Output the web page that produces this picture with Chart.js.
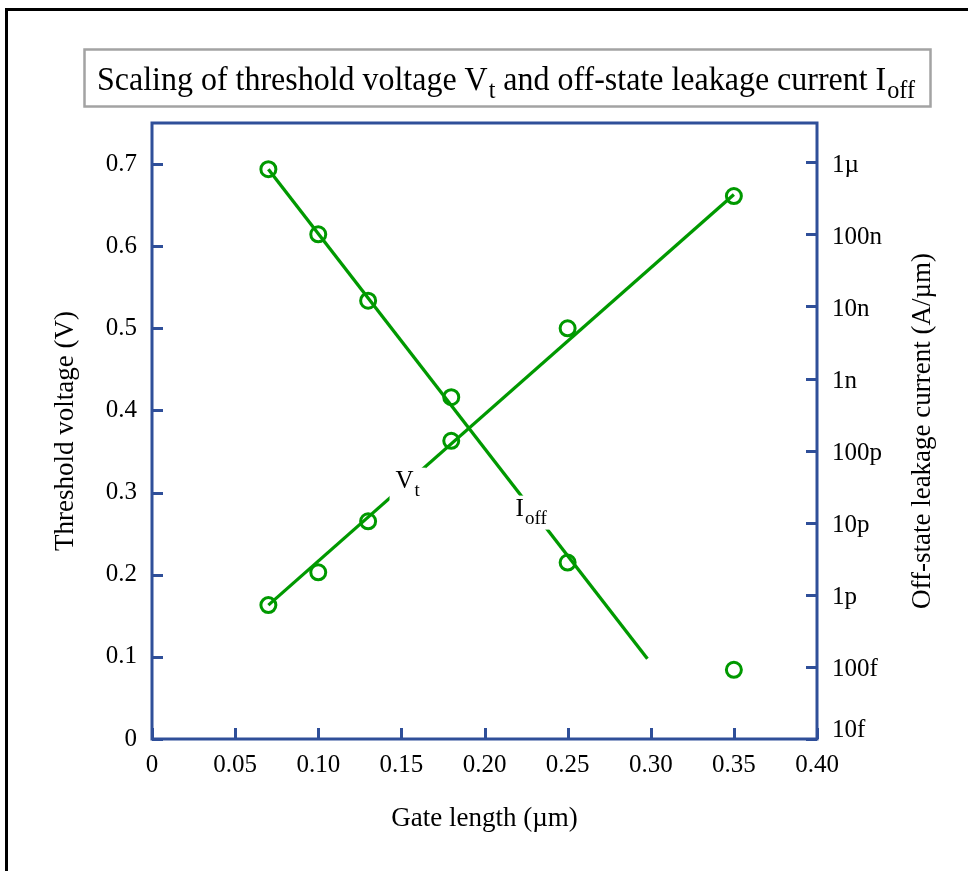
<!DOCTYPE html>
<html>
<head>
<meta charset="utf-8">
<script src="https://cdn.jsdelivr.net/npm/chart.js@4/dist/chart.umd.min.js"></script>
<style>
  html, body { margin: 0; padding: 0; background: #fff; }
  #wrap { width: 968px; height: 871px; position: relative; }
</style>
</head>
<body>
<div id="wrap"><canvas id="c" width="968" height="871"></canvas></div>
<script>
// Measured gate lengths (µm)
const gateLength = [0.07, 0.10, 0.13, 0.18, 0.25, 0.35];
// Threshold voltage (V), left axis
const vtValues = [0.163, 0.203, 0.265, 0.363, 0.500, 0.661];
// Off-state leakage current (A/µm), right log axis
const ioffValues = [8.0e-7, 1.0e-7, 1.2e-8, 5.5e-10, 2.8e-12, 9.1e-14];

// Trend lines (end points)
const vtFitX = [0.07, 0.35];
const vtFitY = [0.163, 0.663];
const ioffFitX = [0.07, 0.298];
const ioffFitY = [8.0e-7, 1.3e-13];

// Axis ticks and their labels
const xTicks = [0, 0.05, 0.10, 0.15, 0.20, 0.25, 0.30, 0.35, 0.40];
const xTickLabels = ['0', '0.05', '0.10', '0.15', '0.20', '0.25', '0.30', '0.35', '0.40'];
const vtTicks = [0, 0.1, 0.2, 0.3, 0.4, 0.5, 0.6, 0.7];
const vtTickLabels = ['0', '0.1', '0.2', '0.3', '0.4', '0.5', '0.6', '0.7'];
const ioffTicks = [1e-14, 1e-13, 1e-12, 1e-11, 1e-10, 1e-9, 1e-8, 1e-7, 1e-6];
const ioffTickLabels = ['10f', '100f', '1p', '10p', '100p', '1n', '10n', '100n', '1\u00b5'];

// In-plot series labels (anchor in left-axis data units)
const vtLabelAt = { x: 0.1465, y: 0.306 };
const ioffLabelAt = { x: 0.2187, y: 0.272 };

const GREEN = '#009900';
const AXIS_BLUE = '#2f4f99';
const SERIF = "'Liberation Serif', 'Times New Roman', serif";

const toPoints = (xs, ys) => xs.map((x, i) => ({ x: x, y: ys[i] }));

// Draws main text followed by a subscript; returns total width
function drawSubText(ctx, x, y, main, sub, size, subSize, subDrop, measureOnly) {
  ctx.font = size + 'px ' + SERIF;
  const w1 = ctx.measureText(main).width;
  ctx.font = subSize + 'px ' + SERIF;
  const w2 = ctx.measureText(sub).width;
  if (!measureOnly) {
    ctx.font = size + 'px ' + SERIF;
    ctx.fillText(main, x, y);
    ctx.font = subSize + 'px ' + SERIF;
    ctx.fillText(sub, x + w1 + 1, y + subDrop);
  }
  return w1 + 1 + w2;
}

const decorPlugin = {
  id: 'decor',
  beforeDraw(chart) {
    const ctx = chart.ctx;
    ctx.save();
    ctx.fillStyle = '#fff';
    ctx.fillRect(0, 0, chart.width, chart.height);

    // outer black frame (open at right and bottom)
    ctx.strokeStyle = '#000';
    ctx.lineWidth = 3;
    ctx.beginPath();
    ctx.moveTo(968, 9.5);
    ctx.lineTo(6.5, 9.5);
    ctx.lineTo(6.5, 871);
    ctx.stroke();

    // title box
    ctx.strokeStyle = '#a3a3a3';
    ctx.lineWidth = 2.5;
    ctx.strokeRect(84.5, 49.5, 846, 57);

    // title text with subscripts, set in a slightly narrow serif
    const size = 33, sub = 25, drop = 8;
    const parts = [
      ['Scaling of threshold voltage V', 't'],
      [' and off-state leakage current I', 'off']
    ];
    let total = 0;
    parts.forEach(p => { total += drawSubText(ctx, 0, 0, p[0], p[1], size, sub, drop, true); });
    const targetW = 818;
    const sx = Math.min(1, targetW / total);
    ctx.translate(506 - targetW / 2, 0);
    ctx.scale(sx, 1);
    ctx.fillStyle = '#000';
    ctx.textBaseline = 'alphabetic';
    ctx.textAlign = 'left';
    let x = (targetW / sx - total) / 2;
    parts.forEach(p => { x += drawSubText(ctx, x, 90, p[0], p[1], size, sub, drop, false); });
    ctx.restore();

    // right axis title, reading bottom to top
    const a = chart.chartArea;
    ctx.save();
    ctx.translate(923, (a.top + a.bottom) / 2);
    ctx.rotate(-Math.PI / 2);
    ctx.font = '27px ' + SERIF;
    ctx.fillStyle = '#000';
    ctx.textAlign = 'center';
    ctx.textBaseline = 'middle';
    ctx.fillText('Off-state leakage current (A/\u00b5m)', 0, 0);
    ctx.restore();
  },
  beforeDatasetsDraw(chart) {
    const ctx = chart.ctx;
    const a = chart.chartArea;
    const sx = chart.scales.x, sy = chart.scales.y, sy2 = chart.scales.y2;
    const tl = 11;
    ctx.save();
    ctx.strokeStyle = AXIS_BLUE;
    ctx.lineWidth = 3;
    ctx.beginPath();
    sy.ticks.forEach(t => {
      const p = Math.round(sy.getPixelForValue(t.value)) + 0.5;
      ctx.moveTo(a.left, p); ctx.lineTo(a.left + tl, p);
    });
    sy2.ticks.forEach(t => {
      const p = Math.round(sy2.getPixelForValue(t.value)) + 0.5;
      ctx.moveTo(a.right, p); ctx.lineTo(a.right - tl, p);
    });
    sx.ticks.forEach(t => {
      const p = Math.round(sx.getPixelForValue(t.value)) + 0.5;
      ctx.moveTo(p, a.bottom); ctx.lineTo(p, a.bottom - tl);
    });
    ctx.stroke();
    ctx.strokeRect(a.left, a.top, a.right - a.left, a.bottom - a.top);

    // right-axis tick labels (lowest one kept inside the frame)
    ctx.font = '25px ' + SERIF;
    ctx.fillStyle = '#000';
    ctx.textAlign = 'left';
    ctx.textBaseline = 'middle';
    sy2.ticks.forEach((t, i) => {
      const p = Math.min(sy2.getPixelForValue(t.value) + 3, a.bottom - 9);
      ctx.fillText(ioffTickLabels[i], a.right + 15, p);
    });
    ctx.restore();
  },
  afterDatasetsDraw(chart) {
    const ctx = chart.ctx;
    const sx = chart.scales.x, sy = chart.scales.y;
    const size = 25, sub = 19, drop = 8;
    ctx.save();
    ctx.textBaseline = 'alphabetic';
    ctx.textAlign = 'left';
    [[vtLabelAt, 'V', 't'], [ioffLabelAt, 'I', 'off']].forEach(l => {
      const px = sx.getPixelForValue(l[0].x);
      const py = sy.getPixelForValue(l[0].y);
      const w = drawSubText(ctx, px, py, l[1], l[2], size, sub, drop, true);
      ctx.fillStyle = '#fff';
      ctx.fillRect(px - 6, py - 20, w + 12, 34);
      ctx.fillStyle = '#000';
      drawSubText(ctx, px, py, l[1], l[2], size, sub, drop, false);
    });
    ctx.restore();
  }
};

const tickFont = { family: SERIF, size: 25 };
const titleFont = { family: SERIF, size: 27 };

new Chart(document.getElementById('c'), {
  type: 'scatter',
  data: {
    datasets: [
      {
        type: 'line', data: toPoints(vtFitX, vtFitY), yAxisID: 'y',
        borderColor: GREEN, borderWidth: 3.3, pointRadius: 0, fill: false
      },
      {
        type: 'line', data: toPoints(ioffFitX, ioffFitY), yAxisID: 'y2',
        borderColor: GREEN, borderWidth: 3.3, pointRadius: 0, fill: false
      },
      {
        data: toPoints(gateLength, vtValues), yAxisID: 'y',
        pointRadius: 7.5, pointBorderWidth: 3, pointBackgroundColor: '#fff',
        pointBorderColor: GREEN, showLine: false
      },
      {
        data: toPoints(gateLength, ioffValues), yAxisID: 'y2',
        pointRadius: 7.5, pointBorderWidth: 3, pointBackgroundColor: '#fff',
        pointBorderColor: GREEN, showLine: false
      }
    ]
  },
  options: {
    responsive: false,
    devicePixelRatio: 1,
    animation: false,
    events: [],
    layout: { padding: { top: 123, left: 0, right: 0, bottom: 0 } },
    plugins: { legend: { display: false }, tooltip: { enabled: false } },
    scales: {
      x: {
        type: 'linear', position: 'bottom', min: 0, max: 0.4,
        afterFit: s => { s.height = 132; },
        afterBuildTicks: s => { s.ticks = xTicks.map(v => ({ value: v })); },
        grid: { display: false, drawTicks: false },
        border: { display: false },
        ticks: {
          callback: (v, i) => xTickLabels[i], font: tickFont, color: '#000',
          padding: 11, maxRotation: 0, autoSkip: false
        },
        title: { display: true, text: 'Gate length (\u00b5m)', font: titleFont, color: '#000', padding: { top: 0, bottom: 36 } }
      },
      y: {
        type: 'linear', position: 'left', min: 0, max: 0.75,
        afterFit: s => { s.width = 152; },
        afterBuildTicks: s => { s.ticks = vtTicks.map(v => ({ value: v })); },
        grid: { display: false, drawTicks: false },
        border: { display: false },
        ticks: { callback: (v, i) => vtTickLabels[i], font: tickFont, color: '#000', padding: 15, autoSkip: false },
        title: { display: true, text: 'Threshold voltage (V)', font: titleFont, color: '#000', padding: { top: 50, bottom: 0 } }
      },
      y2: {
        type: 'logarithmic', position: 'right', min: 1e-14, max: 3.5e-6,
        afterFit: s => { s.width = 151; },
        afterBuildTicks: s => { s.ticks = ioffTicks.map(v => ({ value: v })); },
        grid: { display: false, drawTicks: false },
        border: { display: false },
        ticks: { display: false }
      }
    }
  },
  plugins: [decorPlugin]
});
</script>
</body>
</html>
